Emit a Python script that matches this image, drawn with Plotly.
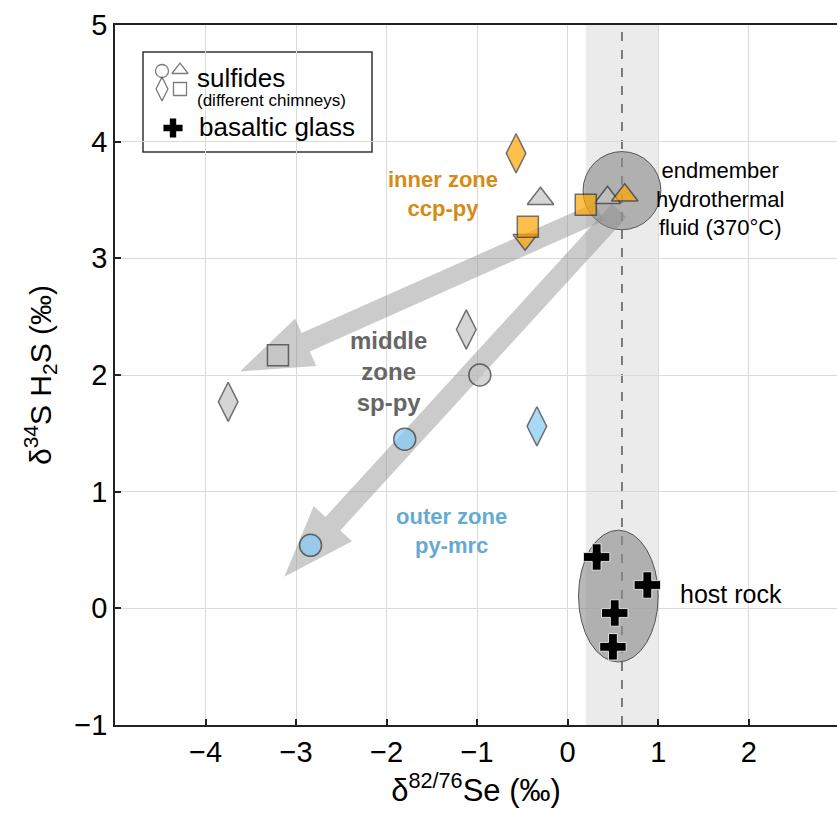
import numpy as np
import plotly.graph_objects as go

# ---------------- data ----------------
# inner zone (ccp-py) sulfides - orange
inner_x = [-0.57, -0.47, -0.44, 0.20, 0.63]
inner_y = [3.90, 3.16, 3.27, 3.46, 3.54]
inner_sym = ["diamond-tall", "triangle-down", "square", "square", "triangle-up"]

# middle zone (sp-py) sulfides - grey
middle_x = [-0.30, 0.44, -3.20, -3.75, -1.12, -0.97]
middle_y = [3.51, 3.52, 2.17, 1.77, 2.39, 2.00]
middle_sym = ["triangle-up", "triangle-up", "square", "diamond-tall", "diamond-tall", "circle"]

# outer zone (py-mrc) sulfides - blue
outer_x = [-1.80, -2.84, -0.34]
outer_y = [1.45, 0.54, 1.56]
outer_sym = ["circle", "circle", "diamond-tall"]

# basaltic glass
glass_x = [0.32, 0.88, 0.52, 0.50]
glass_y = [0.44, 0.20, -0.04, -0.33]

# endmember fluid and host rock fields (centre, half-widths)
fluid_c = (0.60, 3.58)
fluid_r = (0.43, 0.335)
host_c = (0.56, 0.105)
host_r = (0.44, 0.565)

# fluid Se range band and mean
band_x = [0.2, 1.0]
fluid_se = 0.6

# trend arrows: (tail, tip)
arrow_a = [(0.35, 3.40), (-3.62, 2.03)]
arrow_b = [(0.57, 3.41), (-3.13, 0.27)]

x_range = [-5, 2.975]
y_range = [-1, 5]
x_ticks = [-4, -3, -2, -1, 0, 1, 2]
y_ticks = [-1, 0, 1, 2, 3, 4, 5]

# ---------------- layout geometry ----------------
W, H = 837, 818
ML, MR, MT, MB = 115, 0, 25, 93
PW, PH = W - ML - MR, H - MT - MB
sx = PW / (x_range[1] - x_range[0])
sy = PH / (y_range[1] - y_range[0])

ORANGE = "#FFA500"
GREY = "#C4C4C4"
BLUE = "#84CBF6"
EDGE = "#333333"
FONT = "Liberation Sans, Arial, sans-serif"

size_of = {"circle": 22, "square": 21, "triangle-up": 23, "triangle-down": 21,
           "diamond-tall": 28}

fig = go.Figure()


def arrow_path(tail, tip, shaft=20, head_len=72, head_w=52):
    tx, ty = tail[0] * sx, tail[1] * sy
    px, py = tip[0] * sx, tip[1] * sy
    d = np.array([px - tx, py - ty])
    u = d / np.linalg.norm(d)
    n = np.array([-u[1], u[0]])
    t = np.array([tx, ty])
    p = np.array([px, py])
    neck = p - u * head_len
    pts = [t + n * shaft / 2, neck + n * shaft / 2, neck + n * head_w / 2, p,
           neck - n * head_w / 2, neck - n * shaft / 2, t - n * shaft / 2]
    s = "M " + " L ".join(f"{q[0] / sx:.4f},{q[1] / sy:.4f}" for q in pts) + " Z"
    return s


shapes = []
# shaded band
shapes.append(dict(type="rect", xref="x", yref="paper", x0=band_x[0], x1=band_x[1],
                   y0=0, y1=1, fillcolor="#EBEBEB", line_width=0, layer="below"))
# fields
shapes.append(dict(type="circle", xref="x", yref="y",
                   x0=fluid_c[0] - fluid_r[0], x1=fluid_c[0] + fluid_r[0],
                   y0=fluid_c[1] - fluid_r[1], y1=fluid_c[1] + fluid_r[1],
                   fillcolor="rgba(140,140,140,0.62)", line=dict(color="#555555", width=1),
                   layer="between"))
shapes.append(dict(type="circle", xref="x", yref="y",
                   x0=host_c[0] - host_r[0], x1=host_c[0] + host_r[0],
                   y0=host_c[1] - host_r[1], y1=host_c[1] + host_r[1],
                   fillcolor="rgba(140,140,140,0.62)", line=dict(color="#555555", width=1),
                   layer="between"))
# arrows
for a in (arrow_a, arrow_b):
    shapes.append(dict(type="path", xref="x", yref="y", path=arrow_path(a[0], a[1]),
                       fillcolor="rgba(140,140,140,0.45)", line_width=0, layer="between"))
# dashed line
shapes.append(dict(type="line", xref="x", yref="paper", x0=fluid_se, x1=fluid_se, y0=0, y1=1,
                   line=dict(color="#555555", width=1.5, dash="dash"), layer="between"))
# legend box
lx0, lx1, ly0, ly1 = 143, 372, 52, 152
shapes.append(dict(type="rect", xref="paper", yref="paper",
                   x0=(lx0 - ML) / PW, x1=(lx1 - ML) / PW,
                   y0=1 - (ly1 - MT) / PH, y1=1 - (ly0 - MT) / PH,
                   fillcolor="white", line=dict(color="#333333", width=1.5), layer="between"))


def add_points(xs, ys, syms, color):
    fig.add_trace(go.Scatter(
        x=xs, y=ys, mode="markers", showlegend=False, hoverinfo="skip",
        marker=dict(symbol=syms, size=[size_of[s] for s in syms], color=color,
                    line=dict(color=EDGE, width=1.5))))


add_points(middle_x, middle_y, middle_sym, GREY)
add_points(outer_x, outer_y, outer_sym, BLUE)
add_points(inner_x, inner_y, inner_sym, ORANGE)
fig.add_trace(go.Scatter(
    x=glass_x, y=glass_y, mode="markers", showlegend=False, hoverinfo="skip",
    marker=dict(symbol="cross", size=22, color="black", line=dict(color="white", width=0.8))))


# legend glyphs on an overlay axis (0..1 over the plot area)
def pxx(v):
    return (v - ML) / PW


def pxy(v):
    return 1 - (v - MT) / PH


leg_sym = ["circle-open", "triangle-up-open", "diamond-tall-open", "square-open"]
leg_pos = [(162, 71), (180, 70), (162, 89), (180, 89)]
fig.add_trace(go.Scatter(
    x=[pxx(p[0]) for p in leg_pos], y=[pxy(p[1]) for p in leg_pos],
    xaxis="x2", yaxis="y2", mode="markers", showlegend=False, hoverinfo="skip",
    marker=dict(symbol=leg_sym, size=[13, 14, 17, 13], color="#444444", line=dict(width=1.3))))
fig.add_trace(go.Scatter(
    x=[pxx(173)], y=[pxy(128)], xaxis="x2", yaxis="y2", mode="markers",
    showlegend=False, hoverinfo="skip",
    marker=dict(symbol="cross", size=16, color="black", line=dict(width=0))))

ann = []


def text(x, y, s, size, color="black", bold=False, xanchor="center", ref="x", align="center"):
    if bold:
        s = "<b>" + s.replace("<br>", "</b><br><b>") + "</b>"
    ann.append(dict(x=x, y=y, xref=ref, yref=("y" if ref == "x" else "paper"), text=s,
                    showarrow=False, xanchor=xanchor, yanchor="middle", align=align,
                    font=dict(size=size, color=color, family=FONT)))


text(-1.38, 3.55, "inner zone<br>ccp-py", 22, "#D58B14", bold=True)
text(-1.98, 2.03, "middle<br>zone<br>sp-py", 24, "#666666", bold=True)
text(-1.28, 0.66, "outer zone<br>py-mrc", 22, "#66AAD3", bold=True)
text(1.68, 3.51, "endmember<br>hydrothermal<br>fluid (370°C)", 22)
text(1.22, 0.12, "host rock", 25, xanchor="left")
text(pxx(195), pxy(78), "sulfides", 26, ref="paper", xanchor="left")
text(pxx(195), pxy(101), "(different chimneys)", 17, ref="paper", xanchor="left")
text(pxx(197), pxy(127), "basaltic glass", 26, ref="paper", xanchor="left")

fig.update_layout(
    width=W, height=H, margin=dict(l=ML, r=MR, t=MT, b=MB, autoexpand=False),
    paper_bgcolor="white", plot_bgcolor="white",
    font=dict(family=FONT, color="black"),
    shapes=shapes, annotations=ann,
    xaxis=dict(range=x_range, tickvals=x_ticks, showgrid=True, gridcolor="#DADADA",
               gridwidth=1, zeroline=False, showline=True, linecolor="#222222", linewidth=1.5,
               mirror=True, ticks="inside", ticklen=6, tickwidth=1.5, tickcolor="#222222",
               tickfont=dict(size=29, family=FONT), automargin=False,
               title=dict(text="δ<sup>82/76</sup>Se (‰)", font=dict(size=31, family=FONT),
                          standoff=6)),
    yaxis=dict(range=y_range, tickvals=y_ticks, showgrid=True, gridcolor="#DADADA",
               gridwidth=1, zeroline=False, showline=True, linecolor="#222222", linewidth=1.5,
               mirror=False, ticks="inside", ticklen=6, tickwidth=1.5, tickcolor="#222222",
               tickfont=dict(size=29, family=FONT), automargin=False,
               title=dict(text="δ<sup>34</sup>S H<sub>2</sub>S (‰)",
                          font=dict(size=30, family=FONT), standoff=14)),
    xaxis2=dict(range=[0, 1], overlaying="x", visible=False, anchor="y2", automargin=False),
    yaxis2=dict(range=[0, 1], overlaying="y", visible=False, anchor="x2", automargin=False),
)

fig.write_html("out.html", config={"displayModeBar": False},
               post_script="document.body.style.margin='0';document.body.style.overflow='hidden';")
